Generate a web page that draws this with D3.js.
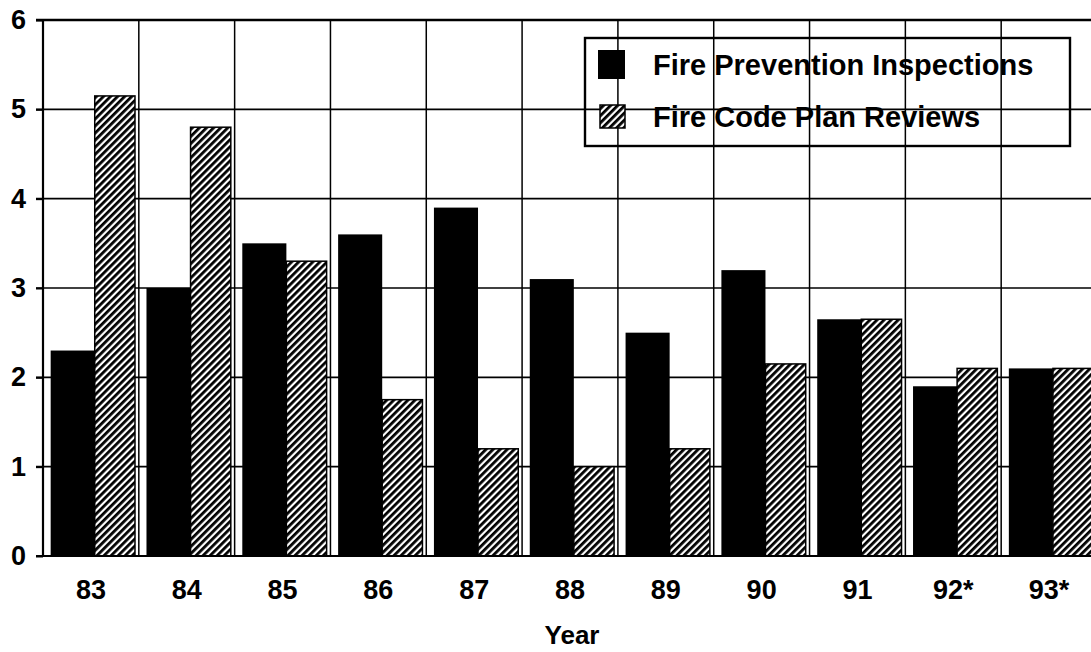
<!DOCTYPE html>
<html>
<head>
<meta charset="utf-8">
<script src="https://cdn.jsdelivr.net/npm/d3@7"></script>
<style>
  html, body { margin: 0; padding: 0; background: #fff; }
  svg { display: block; }
  text { font-family: "Liberation Sans", Arial, Helvetica, sans-serif; font-weight: bold; fill: #000; }
</style>
</head>
<body>
<svg id="chart" width="1091" height="652"></svg>
<script>
const categories = ["83","84","85","86","87","88","89","90","91","92*","93*"];
const inspections = [2.3, 3.0, 3.5, 3.6, 3.9, 3.1, 2.5, 3.2, 2.65, 1.9, 2.1];
const planReviews = [5.15, 4.8, 3.3, 1.75, 1.2, 1.0, 1.2, 2.15, 2.65, 2.1, 2.1];
const yTicks = [0, 1, 2, 3, 4, 5, 6];
const seriesNames = ["Fire Prevention Inspections", "Fire Code Plan Reviews"];
const xTitle = "Year";

(function () {
const svg = d3.select("#chart");
const W = 1091;
const mLeft = 43, mRight = 1097, mTop = 20, mBottom = 556;

const x = d3.scaleBand().domain(categories).range([mLeft, mRight]).paddingInner(0).paddingOuter(0);
const y = d3.scaleLinear().domain([0, 6]).range([mBottom, mTop]);
const bw = x.bandwidth();

// hatch pattern
const defs = svg.append("defs");
const pat = defs.append("pattern")
  .attr("id", "hatch").attr("patternUnits", "userSpaceOnUse")
  .attr("width", 5).attr("height", 5)
  .attr("patternTransform", "rotate(45)");
pat.append("rect").attr("width", 5).attr("height", 5).attr("fill", "#fff");
pat.append("line").attr("x1", 1.4).attr("y1", 0).attr("x2", 1.4).attr("y2", 5)
  .attr("stroke", "#000").attr("stroke-width", 2.8);

// horizontal gridlines
svg.append("g").selectAll("line").data(yTicks.filter(d => d > 0)).join("line")
  .attr("x1", mLeft - 7).attr("x2", W)
  .attr("y1", d => y(d)).attr("y2", d => y(d))
  .attr("stroke", "#000").attr("stroke-width", d => d === 6 ? 2.5 : 1.6);

// vertical gridlines
svg.append("g").selectAll("line").data(categories.slice(1)).join("line")
  .attr("x1", d => x(d)).attr("x2", d => x(d))
  .attr("y1", mTop).attr("y2", mBottom)
  .attr("stroke", "#000").attr("stroke-width", 1.5);

// legend box (transparent, gridlines show through)
const lg = svg.append("g");
lg.append("rect").attr("x", 585).attr("y", 38).attr("width", 485).attr("height", 108)
  .attr("fill", "none").attr("stroke", "#000").attr("stroke-width", 2.4);
lg.append("rect").attr("x", 598).attr("y", 50).attr("width", 27).attr("height", 29).attr("fill", "#000");
lg.append("rect").attr("x", 600).attr("y", 105).attr("width", 25).attr("height", 23)
  .attr("fill", "url(#hatch)").attr("stroke", "#000").attr("stroke-width", 1.5);
lg.append("text").attr("x", 653).attr("y", 75).attr("font-size", 29).text(seriesNames[0]);
lg.append("text").attr("x", 653).attr("y", 127).attr("font-size", 29).text(seriesNames[1]);

// bars
const bars = svg.append("g");
bars.selectAll("rect.insp").data(categories).join("rect").attr("class", "insp")
  .attr("x", d => x(d) + bw * 0.08)
  .attr("width", bw * 0.46)
  .attr("y", (d, i) => y(inspections[i]))
  .attr("height", (d, i) => y(0) - y(inspections[i]))
  .attr("fill", "#000");
bars.selectAll("rect.plan").data(categories).join("rect").attr("class", "plan")
  .attr("x", d => x(d) + bw * 0.54)
  .attr("width", bw * 0.42)
  .attr("y", (d, i) => y(planReviews[i]))
  .attr("height", (d, i) => y(0) - y(planReviews[i]))
  .attr("fill", "url(#hatch)").attr("stroke", "#000").attr("stroke-width", 1.5);

// y axis
const yAxis = d3.axisLeft(y).tickValues(yTicks).tickSize(7).tickPadding(10).tickFormat(d3.format("d"));
const gy = svg.append("g").attr("transform", `translate(${mLeft},0)`).call(yAxis);
gy.select(".domain").attr("stroke", "#000").attr("stroke-width", 2.2).attr("d", `M0,${mTop}V${mBottom}`);
gy.selectAll(".tick line").attr("stroke", "#000").attr("stroke-width", 2);
gy.selectAll(".tick text").attr("font-size", 27).attr("font-family", "Liberation Sans, Arial, sans-serif")
  .attr("font-weight", "bold").attr("fill", "#000");

// baseline
svg.append("line").attr("x1", mLeft - 7).attr("x2", W).attr("y1", y(0)).attr("y2", y(0))
  .attr("stroke", "#000").attr("stroke-width", 2);

// x axis labels
const xAxis = d3.axisBottom(x).tickSize(0).tickPadding(24);
const gx = svg.append("g").attr("transform", `translate(0,${mBottom})`).call(xAxis);
gx.select(".domain").remove();
gx.selectAll(".tick text").attr("font-size", 27).attr("font-family", "Liberation Sans, Arial, sans-serif")
  .attr("font-weight", "bold").attr("fill", "#000");

// x title
svg.append("text").attr("x", 572).attr("y", 644).attr("text-anchor", "middle")
  .attr("font-size", 26).text(xTitle);
})();
</script>
</body>
</html>
